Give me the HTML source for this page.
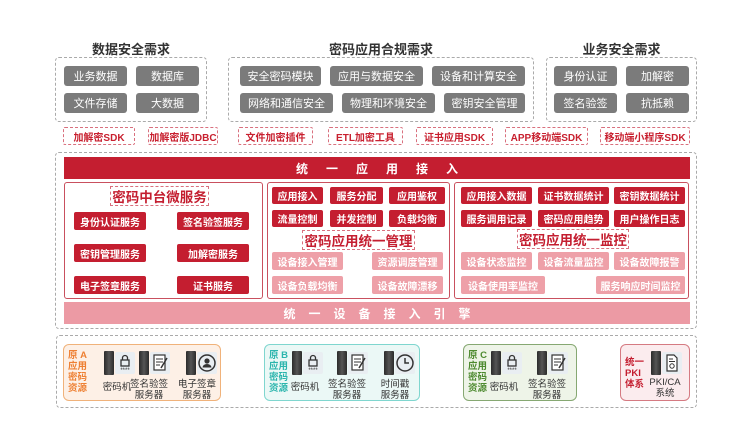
<!DOCTYPE html>
<html><head><meta charset="utf-8">
<style>
*{margin:0;padding:0;box-sizing:border-box}
body{width:752px;height:440px;background:#fff;position:relative;overflow:hidden;font-family:"Liberation Sans","Noto Sans CJK SC",sans-serif}
.a{position:absolute}
.t{position:absolute;font-weight:bold;font-size:13px;color:#333;text-align:center}
.dash{position:absolute;border:1px dashed #aaa;border-radius:4px}
.g{position:absolute;background:#7b7b7b;color:#fff;font-size:11px;border-radius:3px;display:flex;align-items:center;justify-content:center;height:20px}
.sdk{position:absolute;border:1px dashed #d9707e;color:#c8202f;font-size:10px;font-weight:bold;display:flex;align-items:center;justify-content:center;height:18px;top:127px;border-radius:2px}
.r{position:absolute;background:#c41e30;color:#fff;font-size:10px;font-weight:bold;border-radius:2px;display:flex;align-items:center;justify-content:center;height:17px}
.p{position:absolute;background:#eea0a8;color:#fff;font-size:10px;font-weight:bold;border-radius:2px;display:flex;align-items:center;justify-content:center;height:18px}
.pan{position:absolute;border:1px solid #c9505e;border-radius:3px;top:182px;height:117px}
.tt{position:absolute;border:1px dashed #d9707e;color:#c41e30;font-weight:bold;font-size:13.5px;display:flex;align-items:center;justify-content:center;height:20px;background:#fff}
.rb{position:absolute;border-radius:6px;top:344px;height:57px}
.lab{position:absolute;font-size:9.5px;font-weight:bold;line-height:11px;top:350px}
.srv{position:absolute;width:10px;height:24px;top:351px;background:linear-gradient(90deg,#2b2b2b,#555 50%,#2b2b2b);border-radius:1px}
.tile{position:absolute;width:20px;height:22px;top:352px;background:#e9eef2;border-radius:2px}
.tile svg{width:20px;height:22px;display:block}
.il{position:absolute;font-size:9.5px;color:#333;text-align:center;line-height:10.5px;top:380px;width:50px}
</style></head><body>

<div class="t" style="left:55px;top:39px;width:152px">数据安全需求</div>
<div class="t" style="left:228px;top:39px;width:306px">密码应用合规需求</div>
<div class="t" style="left:546px;top:39px;width:151px">业务安全需求</div>

<div class="dash" style="left:55px;top:57px;width:152px;height:65px"></div>
<div class="dash" style="left:228px;top:57px;width:306px;height:65px"></div>
<div class="dash" style="left:546px;top:57px;width:151px;height:65px"></div>

<div class="g" style="left:64px;top:66px;width:63px">业务数据</div>
<div class="g" style="left:136px;top:66px;width:63px">数据库</div>
<div class="g" style="left:64px;top:93px;width:63px">文件存储</div>
<div class="g" style="left:136px;top:93px;width:63px">大数据</div>

<div class="g" style="left:240px;top:66px;width:81px">安全密码模块</div>
<div class="g" style="left:330px;top:66px;width:93px">应用与数据安全</div>
<div class="g" style="left:432px;top:66px;width:93px">设备和计算安全</div>
<div class="g" style="left:240px;top:93px;width:93px">网络和通信安全</div>
<div class="g" style="left:342px;top:93px;width:93px">物理和环境安全</div>
<div class="g" style="left:444px;top:93px;width:81px">密钥安全管理</div>

<div class="g" style="left:554px;top:66px;width:63px">身份认证</div>
<div class="g" style="left:626px;top:66px;width:63px">加解密</div>
<div class="g" style="left:554px;top:93px;width:63px">签名验签</div>
<div class="g" style="left:626px;top:93px;width:63px">抗抵赖</div>

<div class="sdk" style="left:63px;width:72px">加解密SDK</div>
<div class="sdk" style="left:148px;width:70px">加解密版JDBC</div>
<div class="sdk" style="left:238px;width:75px">文件加密插件</div>
<div class="sdk" style="left:328px;width:75px">ETL加密工具</div>
<div class="sdk" style="left:416px;width:77px">证书应用SDK</div>
<div class="sdk" style="left:505px;width:83px">APP移动端SDK</div>
<div class="sdk" style="left:600px;width:90px">移动端小程序SDK</div>

<div class="dash" style="left:55px;top:152px;width:642px;height:177px"></div>
<div class="a" style="left:64px;top:157px;width:626px;height:22px;background:#c41e30;color:#fff;font-weight:bold;font-size:12px;display:flex;align-items:center;justify-content:center;letter-spacing:18px;padding-left:18px">统一应用接入</div>

<div class="pan" style="left:64px;width:199px"></div>
<div class="tt" style="left:110px;top:186px;width:99px">密码中台微服务</div>
<div class="r" style="left:74px;top:212px;width:72px;height:18px">身份认证服务</div>
<div class="r" style="left:177px;top:212px;width:72px;height:18px">签名验签服务</div>
<div class="r" style="left:74px;top:244px;width:72px;height:18px">密钥管理服务</div>
<div class="r" style="left:177px;top:244px;width:72px;height:18px">加解密服务</div>
<div class="r" style="left:74px;top:276px;width:72px;height:18px">电子签章服务</div>
<div class="r" style="left:177px;top:276px;width:72px;height:18px">证书服务</div>

<div class="pan" style="left:267px;width:183px"></div>
<div class="r" style="left:272px;top:187px;width:51px">应用接入</div>
<div class="r" style="left:330px;top:187px;width:53px">服务分配</div>
<div class="r" style="left:389px;top:187px;width:56px">应用鉴权</div>
<div class="r" style="left:272px;top:210px;width:51px">流量控制</div>
<div class="r" style="left:330px;top:210px;width:53px">并发控制</div>
<div class="r" style="left:389px;top:210px;width:56px">负载均衡</div>
<div class="tt" style="left:302px;top:230px;width:113px">密码应用统一管理</div>
<div class="p" style="left:272px;top:252px;width:71px">设备接入管理</div>
<div class="p" style="left:372px;top:252px;width:71px">资源调度管理</div>
<div class="p" style="left:272px;top:276px;width:71px">设备负载均衡</div>
<div class="p" style="left:372px;top:276px;width:71px">设备故障漂移</div>

<div class="pan" style="left:454px;width:235px"></div>
<div class="r" style="left:461px;top:187px;width:71px">应用接入数据</div>
<div class="r" style="left:538px;top:187px;width:71px">证书数据统计</div>
<div class="r" style="left:614px;top:187px;width:71px">密钥数据统计</div>
<div class="r" style="left:461px;top:210px;width:71px">服务调用记录</div>
<div class="r" style="left:538px;top:210px;width:71px">密码应用趋势</div>
<div class="r" style="left:614px;top:210px;width:71px">用户操作日志</div>
<div class="tt" style="left:517px;top:229px;width:112px">密码应用统一监控</div>
<div class="p" style="left:461px;top:252px;width:71px">设备状态监控</div>
<div class="p" style="left:538px;top:252px;width:71px">设备流量监控</div>
<div class="p" style="left:614px;top:252px;width:71px">设备故障报警</div>
<div class="p" style="left:461px;top:276px;width:84px">设备使用率监控</div>
<div class="p" style="left:596px;top:276px;width:89px">服务响应时间监控</div>

<div class="a" style="left:64px;top:302px;width:626px;height:22px;background:#ec9aa4;color:#fff;font-weight:bold;font-size:12px;display:flex;align-items:center;justify-content:center;letter-spacing:13px;padding-left:13px">统一设备接入引擎</div>

<div class="dash" style="left:56px;top:335px;width:641px;height:73px"></div>

<!-- A -->
<div class="rb" style="left:63px;width:158px;border:1.5px solid #f0b27a;background:#fdf0e6"></div>
<div class="lab" style="left:68px;color:#ee8033">原 A<br>应用<br>密码<br>资源</div>
<div class="srv" style="left:104px"></div><div class="tile" style="left:115px"><svg viewBox="0 0 20 22"><rect x="6" y="8" width="8" height="6" fill="none" stroke="#333" stroke-width="1.3"/><path d="M7.5 8V6a2.5 2.5 0 0 1 5 0v2" fill="none" stroke="#333" stroke-width="1.3"/><text x="10" y="20" font-size="6" text-anchor="middle" fill="#333">****</text></svg></div>
<div class="il" style="left:92px;top:383px">密码机</div>
<div class="srv" style="left:139px"></div><div class="tile" style="left:150px"><svg viewBox="0 0 20 22"><rect x="4" y="3" width="11" height="15" fill="#fff" stroke="#333" stroke-width="1.2"/><path d="M6 7h7M6 10h7M6 13h4" stroke="#333"/><path d="M17 6l-6 10" stroke="#333" stroke-width="1.5"/></svg></div>
<div class="il" style="left:124px">签名验签<br>服务器</div>
<div class="srv" style="left:186px"></div><div class="tile" style="left:197px"><svg viewBox="0 0 20 22"><circle cx="10" cy="11" r="8" fill="none" stroke="#333" stroke-width="1.5"/><circle cx="10" cy="9" r="2.6" fill="#333"/><path d="M5.5 15.5a4.5 3.5 0 0 1 9 0z" fill="#333"/></svg></div>
<div class="il" style="left:172px">电子签章<br>服务器</div>

<!-- B -->
<div class="rb" style="left:264px;width:156px;border:1.5px solid #7fd6cf;background:#ebf8f6"></div>
<div class="lab" style="left:269px;color:#2bb5ad">原 B<br>应用<br>密码<br>资源</div>
<div class="srv" style="left:292px"></div><div class="tile" style="left:303px"><svg viewBox="0 0 20 22"><rect x="6" y="8" width="8" height="6" fill="none" stroke="#333" stroke-width="1.3"/><path d="M7.5 8V6a2.5 2.5 0 0 1 5 0v2" fill="none" stroke="#333" stroke-width="1.3"/><text x="10" y="20" font-size="6" text-anchor="middle" fill="#333">****</text></svg></div>
<div class="il" style="left:280px;top:383px">密码机</div>
<div class="srv" style="left:337px"></div><div class="tile" style="left:348px"><svg viewBox="0 0 20 22"><rect x="4" y="3" width="11" height="15" fill="#fff" stroke="#333" stroke-width="1.2"/><path d="M6 7h7M6 10h7M6 13h4" stroke="#333"/><path d="M17 6l-6 10" stroke="#333" stroke-width="1.5"/></svg></div>
<div class="il" style="left:322px">签名验签<br>服务器</div>
<div class="srv" style="left:384px"></div><div class="tile" style="left:395px"><svg viewBox="0 0 20 22"><circle cx="10" cy="11" r="8" fill="none" stroke="#333" stroke-width="1.5"/><path d="M10 6v5h4" fill="none" stroke="#333" stroke-width="1.5"/></svg></div>
<div class="il" style="left:370px">时间戳<br>服务器</div>

<!-- C -->
<div class="rb" style="left:463px;width:114px;border:1.5px solid #86a872;background:#eef4e8"></div>
<div class="lab" style="left:468px;color:#4d8a2f">原 C<br>应用<br>密码<br>资源</div>
<div class="srv" style="left:491px"></div><div class="tile" style="left:502px"><svg viewBox="0 0 20 22"><rect x="6" y="8" width="8" height="6" fill="none" stroke="#333" stroke-width="1.3"/><path d="M7.5 8V6a2.5 2.5 0 0 1 5 0v2" fill="none" stroke="#333" stroke-width="1.3"/><text x="10" y="20" font-size="6" text-anchor="middle" fill="#333">****</text></svg></div>
<div class="il" style="left:479px;top:383px">密码机</div>
<div class="srv" style="left:537px"></div><div class="tile" style="left:548px"><svg viewBox="0 0 20 22"><rect x="4" y="3" width="11" height="15" fill="#fff" stroke="#333" stroke-width="1.2"/><path d="M6 7h7M6 10h7M6 13h4" stroke="#333"/><path d="M17 6l-6 10" stroke="#333" stroke-width="1.5"/></svg></div>
<div class="il" style="left:522px">签名验签<br>服务器</div>

<!-- PKI -->
<div class="rb" style="left:620px;width:70px;border:1.5px solid #d57a82;background:#fbecee"></div>
<div class="lab" style="left:625px;top:357px;color:#c41e30">统一<br>PKI<br>体系</div>
<div class="srv" style="left:651px"></div><div class="tile" style="left:662px"><svg viewBox="0 0 20 22"><path d="M5 3h7l3 3v13H5z" fill="#fff" stroke="#333" stroke-width="1.2"/><path d="M7 7h4M7 9.5h6" stroke="#333"/><circle cx="10" cy="14" r="2.2" fill="none" stroke="#333"/></svg></div>
<div class="il" style="left:640px;top:378px">PKI/CA<br>系统</div>

</body></html>
